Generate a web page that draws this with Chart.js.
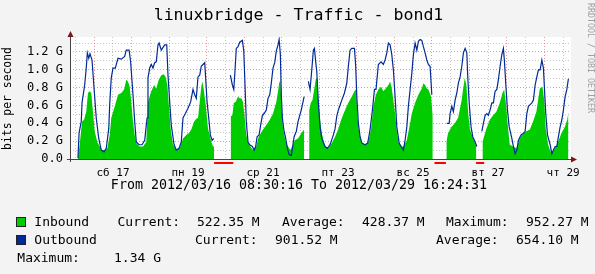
<!DOCTYPE html>
<html>
<head>
<meta charset="utf-8">
<script src="https://cdn.jsdelivr.net/npm/chart.js@4/dist/chart.umd.min.js"></script>
<style>
  html, body { margin: 0; padding: 0; background: #f3f3f3; }
  canvas { display: block; }
</style>
</head>
<body>
<canvas id="chart" width="595" height="274"></canvas>
<script>
// hours since 2012-03-16 00:00, values in Gbit/s (null = no data)
const outboundHours = [
  13.6, 14.3, 15.7, 16.2, 17.9, 18.9, 19.6, 20.5, 21.3, 22.6, 23.9, 25.3, 26.9, 28.5, 30.3, 31.7,
  33.3, 33.9, 34.9, 36.0, 37.5, 39.2, 41.3, 43.5, 44.5, 46.3, 47.3, 48.8, 49.9, 50.9, 52.7, 54.6,
  56.3, 57.8, 58.4, 59.5, 60.5, 61.6, 62.7, 63.7, 64.8, 65.5, 66.9, 69.1, 70.4, 71.2, 72.3, 73.3,
  75.1, 76.5, 78.3, 79.7, 80.8, 82.3, 84.0, 85.7, 87.2, 88.3, 89.3, 90.4, 91.5, 92.5, 93.6, 94.7,
  95.3, 96.2, 97.5, 98.3, 99.4, 100.5, 105.0,
  111.1, 112.4, 113.3, 114.1, 114.9, 116.0, 117.1, 118.8, 119.7, 120.7, 121.3, 122.4, 123.5, 125.2,
  126.3, 127.3, 128.2, 129.5, 130.5, 131.6, 132.7, 134.1, 135.2, 136.3, 137.3, 138.4, 139.5, 140.5,
  141.6, 142.3, 143.1, 143.7, 144.4, 145.3, 146.5, 147.6, 148.7, 150.1, 150.8, 151.9, 153.3, 154.4,
  155.5, 156.5, 157.6, 158.3, 159.6,
  161.0, 162.1, 163.2, 164.2, 164.9, 165.7, 166.4, 167.4, 168.5, 169.6, 171.7, 173.2, 174.9, 177.0,
  178.1, 179.2, 180.2, 182.4, 184.1, 185.6, 186.6, 187.7, 188.8, 190.5, 191.3, 192.0, 193.0, 194.1,
  195.2, 197.3, 199.0, 200.5, 202.0, 203.3, 204.3, 205.8, 207.5, 209.0, 210.1, 211.2, 212.2, 213.3,
  214.4, 215.4, 216.5, 217.6, 219.1, 220.3, 221.8, 222.9, 224.0, 225.0, 226.1, 227.2, 228.2, 229.3,
  230.4, 231.4, 232.5, 233.6, 234.6, 235.7, 236.8, 237.8, 238.9, 240.0, 245.0,
  249.6, 251.1, 251.7, 252.8, 253.8, 254.9, 256.0, 257.0, 258.1, 259.2, 260.2, 261.3, 262.4, 263.0,
  263.9, 265.1, 266.2, 267.7, 268.8, 270.5,
  272.0, 273.0, 274.1, 275.2, 276.2, 277.3, 278.4, 279.4, 280.5, 281.6, 282.6, 283.7, 284.8, 285.8,
  286.4, 287.3, 288.4, 289.5, 291.2, 292.2, 293.3, 294.4, 295.4, 297.1, 298.6, 299.7, 300.8, 301.8,
  302.9, 304.0, 305.0, 306.1, 307.2, 308.2, 309.3, 310.4, 311.4, 312.1, 312.9, 314.0, 315.7, 316.8,
  317.8, 318.9, 320.0, 321.0, 322.1, 323.2, 324.2, 325.3, 326.4, 327.4
];
const outboundG = [
  0.01, 0.29, 0.42, 0.63, 0.83, 1.02, 1.19, 1.13, 1.18, 1.11, 0.79, 0.46, 0.23, 0.10, 0.08, 0.12,
  0.34, 0.61, 0.91, 1.02, 1.02, 1.13, 1.12, 1.15, 1.22, 1.22, 1.09, 0.72, 0.42, 0.19, 0.16, 0.16,
  0.21, 0.46, 0.91, 1.02, 1.06, 1.02, 1.08, 1.09, 1.28, 1.30, 1.22, 1.28, 1.28, 0.94, 0.64, 0.38,
  0.16, 0.10, 0.12, 0.19, 0.46, 0.51, 0.57, 0.64, 0.78, 0.72, 0.68, 0.92, 0.94, 1.04, 1.06, 1.08,
  0.91, 0.64, 0.42, 0.27, 0.21, 0.23, null,
  0.94, 0.83, 0.78, 1.00, 1.24, 1.26, 1.31, 1.33, 1.21, 0.72, 0.42, 0.19, 0.16, 0.14,
  0.10, 0.14, 0.25, 0.27, 0.38, 0.49, 0.51, 0.55, 0.68, 0.72, 0.85, 1.02, 1.08, 1.21,
  1.28, 1.34, 1.17, 0.72, 0.46, 0.33, 0.23, 0.12, 0.05, 0.04, 0.12, 0.25, 0.31, 0.42,
  0.49, 0.55, 0.64, 0.70, null,
  0.87, 0.78, 1.00, 1.22, 1.24, 1.09, 0.98, 0.63, 0.36, 0.23, 0.14, 0.12, 0.16, 0.27,
  0.34, 0.48, 0.55, 0.66, 0.74, 0.85, 1.04, 1.22, 1.24, 1.24, 1.04, 0.70, 0.40, 0.25,
  0.18, 0.16, 0.18, 0.33, 0.55, 0.78, 0.78, 1.06, 1.09, 1.06, 1.11, 1.19, 1.30, 1.28,
  1.17, 1.00, 0.70, 0.36, 0.18, 0.14, 0.10, 0.21, 0.36, 0.59, 0.78, 0.96, 1.17, 1.30,
  1.22, 1.32, 1.34, 1.33, 1.26, 1.19, 1.11, 1.06, 1.04, 0.72, null,
  0.40, 0.40, 0.51, 0.59, 0.53, 0.66, 0.74, 0.85, 0.92, 1.04, 1.19, 1.24, 1.19, 0.92,
  0.63, 0.36, 0.25, 0.19, 0.14, null,
  0.31, 0.40, 0.49, 0.51, 0.49, 0.55, 0.63, 0.63, 0.76, 0.78, 0.89, 1.04, 1.17, 1.24,
  1.11, 0.85, 0.55, 0.36, 0.23, 0.14, 0.06, 0.10, 0.21, 0.27, 0.29, 0.31, 0.51, 0.59,
  0.61, 0.63, 0.66, 0.83, 0.92, 1.00, 1.00, 1.11, 1.02, 0.78, 0.51, 0.27, 0.16, 0.06,
  0.10, 0.14, 0.14, 0.25, 0.36, 0.44, 0.55, 0.70, 0.78, 0.90
];

const inboundHours = [
  13.6, 14.7, 16.2, 17.5, 18.9, 20.0, 21.1, 22.1, 23.2, 24.3, 26.0, 27.5, 29.0, 30.7, 32.4, 33.9,
  34.9, 37.1, 39.2, 41.3, 43.1, 44.5, 45.6, 46.7, 47.7, 48.8, 49.9, 50.9, 53.1, 55.2, 57.3, 58.4,
  60.5, 62.3, 63.7, 65.3, 66.9, 68.5, 69.7, 70.8, 71.9, 72.9, 74.4, 76.5, 78.7, 80.8, 82.9, 84.5,
  86.1, 87.9, 89.3, 90.4, 91.5, 92.5, 93.2, 94.1, 95.3, 96.8, 97.9, 98.9, 100.0, 100.7, 105.0,
  111.3, 112.4, 113.3, 114.5, 116.0, 117.1, 118.1, 119.2, 120.3, 121.3, 122.4, 123.9, 125.6, 127.7,
  128.8, 129.9, 132.0, 134.1, 136.3, 138.4, 140.5, 141.6, 142.3, 143.1, 143.7, 144.8, 146.5, 148.0,
  149.5, 151.2, 152.3, 154.4, 156.5, 158.3, 159.9,
  161.5, 162.6, 163.6, 164.7, 165.7, 166.6, 167.4, 168.5, 169.6, 171.7, 173.8, 176.0, 178.1, 180.2,
  182.4, 184.5, 186.6, 188.8, 190.5, 191.5, 192.4, 193.5, 195.2, 197.3, 199.4, 201.1, 202.6, 204.2,
  205.8, 207.5, 209.0, 210.5, 212.2, 213.3, 214.4, 215.4, 216.5, 217.6, 218.6, 220.8, 221.8, 224.0,
  226.1, 227.2, 229.3, 231.4, 233.6, 234.6, 235.7, 236.8, 237.8, 239.5, 240.6, 245.0,
  249.3, 250.4, 252.5, 254.7, 256.8, 258.9, 260.0, 261.1, 262.1, 263.2, 264.3, 266.4, 268.5, 270.5,
  272.4, 274.9, 277.1, 279.2, 281.3, 283.5, 285.2, 286.3, 287.3, 288.8, 289.9, 292.0, 294.1, 296.3,
  298.4, 300.5, 302.7, 304.8, 306.9, 309.1, 310.8, 311.9, 312.9, 314.4, 316.5, 318.7, 320.8, 322.9,
  325.1, 326.6, 327.4
];
const inboundG = [
  0.01, 0.16, 0.42, 0.44, 0.53, 0.74, 0.76, 0.74, 0.53, 0.31, 0.19, 0.14, 0.10, 0.10, 0.12, 0.27,
  0.46, 0.59, 0.72, 0.74, 0.78, 0.89, 0.87, 0.81, 0.64, 0.42, 0.27, 0.18, 0.14, 0.14, 0.19, 0.64,
  0.76, 0.83, 0.79, 0.89, 0.94, 0.95, 0.92, 0.83, 0.57, 0.34, 0.16, 0.10, 0.12, 0.23, 0.27, 0.29,
  0.33, 0.42, 0.45, 0.46, 0.64, 0.81, 0.87, 0.78, 0.61, 0.34, 0.27, 0.19, 0.14, 0.14, null,
  0.48, 0.49, 0.63, 0.64, 0.70, 0.68, 0.68, 0.64, 0.46, 0.27, 0.19, 0.14, 0.10, 0.14,
  0.23, 0.27, 0.33, 0.38, 0.44, 0.51, 0.64, 0.76, 0.85, 0.89, 0.64, 0.34, 0.19, 0.14,
  0.10, 0.16, 0.21, 0.23, 0.29, 0.33, null,
  0.55, 0.63, 0.66, 0.78, 0.89, 0.91, 0.66, 0.44, 0.29, 0.14, 0.12, 0.18, 0.25, 0.34,
  0.46, 0.55, 0.63, 0.70, 0.76, 0.78, 0.48, 0.29, 0.19, 0.16, 0.19, 0.33, 0.59, 0.72,
  0.78, 0.81, 0.76, 0.79, 0.83, 0.87, 0.79, 0.66, 0.51, 0.31, 0.19, 0.14, 0.14, 0.21,
  0.40, 0.51, 0.63, 0.72, 0.79, 0.85, 0.83, 0.79, 0.78, 0.70, 0.48, null,
  0.19, 0.29, 0.36, 0.40, 0.46, 0.64, 0.78, 0.91, 0.83, 0.53, 0.34, 0.23, 0.14, null,
  0.19, 0.34, 0.44, 0.49, 0.53, 0.63, 0.74, 0.78, 0.64, 0.34, 0.16, 0.14, 0.12, 0.23,
  0.29, 0.31, 0.33, 0.42, 0.53, 0.79, 0.81, 0.66, 0.34, 0.16, 0.06, 0.12, 0.19, 0.29,
  0.36, 0.44, 0.52
];

// periods with unknown data (red marks under the axis)
const unknownSpans = [[100.7, 113.0], [241.7, 249.0], [268.3, 273.5]];

// x axis: day labels at noon every second day
const dayLabelHours = [36, 84, 132, 180, 228, 276, 324];
const dayLabels = ["сб 17", "пн 19", "ср 21", "пт 23", "вс 25", "вт 27", "чт 29"];

// y axis
const yTickValues = [0, 0.2, 0.4, 0.6, 0.8, 1.0, 1.2];
const yTickLabels = ["0.0", "0.2 G", "0.4 G", "0.6 G", "0.8 G", "1.0 G", "1.2 G"];

const startHour = 8.505;   // 2012/03/16 08:30:16
const endHour = 328.41;    // 2012/03/29 16:24:31

const title = "linuxbridge - Traffic - bond1";
const rangeText = "From 2012/03/16 08:30:16 To 2012/03/29 16:24:31";
const inboundStats = ["522.35 M", "428.37 M", "952.27 M"];
const outboundStats = ["901.52 M", "654.10 M", "1.34 G"];

const GREEN = "#00cc00";
const BLUE = "#002a97";
const MONO = '"DejaVu Sans Mono", monospace';

function toPoints(xs, ys) {
  return xs.map((x, i) => ({ x: x, y: ys[i] }));
}

// grid every 12 hours, red at midnight
const xGridHours = [];
for (let h = 12; h < endHour; h += 12) xGridHours.push(h);
const yGridValues = [];
for (let i = 0; i <= 13; i++) yGridValues.push(i / 10);

const rrdPlugin = {
  id: "rrdFrame",
  beforeDraw(chart) {
    const { ctx, chartArea: a } = chart;
    ctx.save();
    ctx.fillStyle = "#f3f3f3";
    ctx.fillRect(0, 0, chart.width, chart.height);
    ctx.fillStyle = "#ffffff";
    ctx.fillRect(a.left, a.top, a.right - a.left + 1, a.bottom - a.top);
    ctx.restore();
  },
  afterDraw(chart) {
    const { ctx, chartArea: a } = chart;
    const xs = chart.scales.x;
    ctx.save();

    // axes
    ctx.strokeStyle = "#444";
    ctx.lineWidth = 1;
    ctx.beginPath();
    ctx.moveTo(a.left + 0.5, a.bottom + 3);
    ctx.lineTo(a.left + 0.5, a.top - 3);
    ctx.moveTo(a.left - 3, a.bottom + 0.5);
    ctx.lineTo(a.right + 3, a.bottom + 0.5);
    ctx.stroke();

    ctx.fillStyle = "#7a1616";
    ctx.beginPath();
    ctx.moveTo(a.left + 0.5, a.top - 6);
    ctx.lineTo(a.left - 2.5, a.top);
    ctx.lineTo(a.left + 3.5, a.top);
    ctx.closePath();
    ctx.fill();
    ctx.beginPath();
    ctx.moveTo(a.right + 7, a.bottom + 0.5);
    ctx.lineTo(a.right + 1, a.bottom - 2.5);
    ctx.lineTo(a.right + 1, a.bottom + 3.5);
    ctx.closePath();
    ctx.fill();

    // unknown-data marks
    ctx.fillStyle = "#ff0000";
    unknownSpans.forEach(([s, e]) => {
      const x1 = xs.getPixelForValue(s);
      const x2 = xs.getPixelForValue(e);
      ctx.fillRect(x1, a.bottom + 3, x2 - x1, 2);
    });

    // x labels
    ctx.fillStyle = "#000";
    ctx.font = "11px " + MONO;
    ctx.textAlign = "center";
    ctx.textBaseline = "alphabetic";
    dayLabelHours.forEach((h, i) => {
      ctx.fillText(dayLabels[i], xs.getPixelForValue(h), 176);
    });

    // title
    ctx.font = "16.6px " + MONO;
    ctx.fillText(title, 298.5, 19.5);

    // range line
    ctx.font = "13.3px " + MONO;
    ctx.fillText(rangeText, 299, 189.3);

    // vertical y label
    ctx.save();
    ctx.translate(8.5, 98.5);
    ctx.rotate(-Math.PI / 2);
    ctx.font = "11.4px " + MONO;
    ctx.textBaseline = "middle";
    ctx.fillText("bits per second", 0, 0);
    ctx.restore();

    // watermark
    ctx.save();
    ctx.translate(590.5, 58);
    ctx.rotate(Math.PI / 2);
    ctx.font = "8.3px " + MONO;
    ctx.fillStyle = "#a0a0a0";
    ctx.textBaseline = "middle";
    ctx.fillText("RRDTOOL / TOBI OETIKER", 0, 0);
    ctx.restore();

    // legend
    ctx.textAlign = "left";
    ctx.font = "13px " + MONO;
    ctx.strokeStyle = "#222";
    ctx.fillStyle = GREEN;
    ctx.fillRect(16, 217, 10, 10);
    ctx.strokeRect(16.5, 217.5, 9, 9);
    ctx.fillStyle = BLUE;
    ctx.fillRect(16, 235, 10, 10);
    ctx.strokeRect(16.5, 235.5, 9, 9);

    ctx.fillStyle = "#000";
    ctx.fillText("Inbound", 34.3, 226);
    ctx.fillText("Current:", 117.5, 226);
    ctx.fillText(inboundStats[0], 197, 226);
    ctx.fillText("Average:", 282, 226);
    ctx.fillText(inboundStats[1], 362, 226);
    ctx.fillText("Maximum:", 446, 226);
    ctx.fillText(inboundStats[2], 526, 226);

    ctx.fillText("Outbound", 34.3, 244);
    ctx.fillText("Current:", 195, 244);
    ctx.fillText(outboundStats[0], 275, 244);
    ctx.fillText("Average:", 436, 244);
    ctx.fillText(outboundStats[1], 516, 244);

    ctx.fillText("Maximum:", 17.3, 262);
    ctx.fillText(outboundStats[2], 114, 262);

    ctx.restore();
  }
};

const ctx = document.getElementById("chart").getContext("2d");
new Chart(ctx, {
  type: "line",
  data: {
    datasets: [
      {
        label: "Outbound",
        data: toPoints(outboundHours, outboundG),
        borderColor: BLUE,
        borderWidth: 1.2,
        pointRadius: 0,
        fill: false,
        spanGaps: false,
        order: 0
      },
      {
        label: "Inbound",
        data: toPoints(inboundHours, inboundG),
        borderColor: GREEN,
        borderWidth: 0,
        backgroundColor: GREEN,
        pointRadius: 0,
        fill: "origin",
        spanGaps: false,
        order: 1
      }
    ]
  },
  options: {
    responsive: false,
    animation: false,
    devicePixelRatio: 1,
    layout: { padding: { left: 0, right: 25, top: 37, bottom: 0 } },
    plugins: {
      legend: { display: false },
      tooltip: { enabled: false }
    },
    scales: {
      x: {
        type: "linear",
        min: startHour,
        max: endHour,
        afterFit(scale) { scale.height = 115; },
        afterBuildTicks(scale) { scale.ticks = xGridHours.map(v => ({ value: v })); },
        ticks: { display: false },
        border: { display: false, dash: [1, 2] },
        grid: {
          drawTicks: false,
          lineWidth: 1,
          color: (c) => (c.tick && c.tick.value % 24 === 0) ? "rgba(230,70,70,0.55)" : "rgba(130,130,130,0.45)"
        }
      },
      y: {
        min: 0,
        max: 1.368,
        afterFit(scale) { scale.width = 70; },
        afterBuildTicks(scale) { scale.ticks = yGridValues.map(v => ({ value: v })); },
        ticks: {
          autoSkip: false,
          padding: 7,
          color: "#000",
          font: { family: "DejaVu Sans Mono", size: 12 },
          callback: (v) => {
            const i = yTickValues.findIndex(t => Math.abs(t - v) < 1e-6);
            return i >= 0 ? yTickLabels[i] : "";
          }
        },
        border: { display: false, dash: [1, 2] },
        grid: {
          drawTicks: false,
          lineWidth: 1,
          color: (c) => {
            const v = c.tick ? c.tick.value : 0;
            return Math.round(v * 10) % 2 === 0 ? "rgba(230,70,70,0.55)" : "rgba(130,130,130,0.45)";
          }
        }
      }
    }
  },
  plugins: [rrdPlugin]
});
</script>
</body>
</html>
